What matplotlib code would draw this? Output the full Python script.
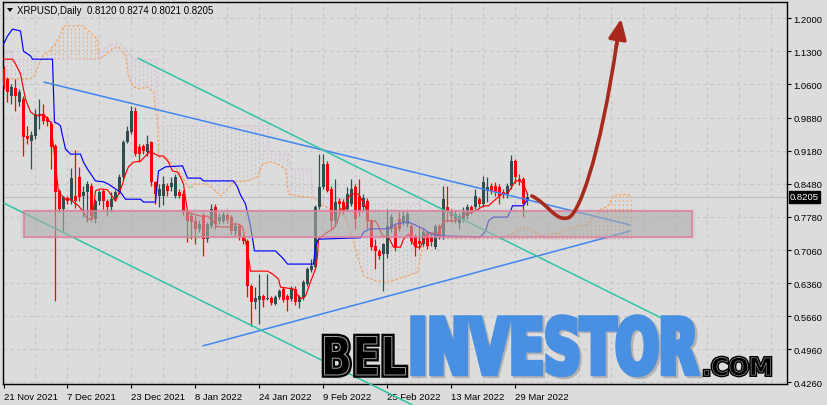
import numpy as np
import matplotlib
matplotlib.use("Agg")
import matplotlib.pyplot as plt
from matplotlib.textpath import TextPath
from matplotlib.font_manager import FontProperties
from matplotlib.patches import PathPatch, Rectangle, Polygon
from matplotlib.path import Path
from matplotlib.transforms import Affine2D

# daily candles XRPUSD, 21 Nov 2021 .. 1 Apr 2022 (bar index 0..131)
opens = [1.092, 1.071, 1.035, 1.052, 1.022, 1.028, 0.950, 0.939, 0.950, 0.994,
         0.997, 0.988, 0.975, 0.928, 0.832, 0.794, 0.818, 0.811, 0.822, 0.862,
         0.822, 0.830, 0.843, 0.773, 0.811, 0.832, 0.811, 0.798, 0.815, 0.830,
         0.862, 0.937, 0.958, 1.003, 0.926, 0.928, 0.916, 0.937, 0.852, 0.822,
         0.822, 0.843, 0.841, 0.822, 0.830, 0.826, 0.788, 0.779, 0.769, 0.752,
         0.781, 0.730, 0.758, 0.798, 0.769, 0.769, 0.782, 0.777, 0.747, 0.758,
         0.735, 0.726, 0.630, 0.596, 0.600, 0.609, 0.602, 0.605, 0.592, 0.607,
         0.624, 0.609, 0.602, 0.624, 0.596, 0.605, 0.635, 0.665, 0.671, 0.798,
         0.841, 0.890, 0.837, 0.769, 0.811, 0.809, 0.794, 0.805, 0.841, 0.822,
         0.798, 0.811, 0.769, 0.716, 0.705, 0.699, 0.699, 0.752, 0.758, 0.773,
         0.767, 0.762, 0.758, 0.737, 0.726, 0.720, 0.741, 0.735, 0.713, 0.758,
         0.737, 0.798, 0.788, 0.773, 0.765, 0.773, 0.779, 0.798, 0.798, 0.815,
         0.805, 0.833, 0.843, 0.843, 0.841, 0.830, 0.826, 0.843, 0.896, 0.858,
         0.858, 0.8120]
highs = [1.098, 1.075, 1.060, 1.071, 1.050, 1.035, 0.971, 0.960, 1.007, 1.028,
         1.018, 0.992, 0.981, 0.932, 0.836, 0.822, 0.822, 0.881, 0.920, 0.884,
         0.843, 0.854, 0.849, 0.815, 0.834, 0.836, 0.815, 0.830, 0.834, 0.869,
         0.941, 0.971, 1.013, 1.011, 0.932, 0.932, 0.952, 0.939, 0.854, 0.847,
         0.864, 0.849, 0.862, 0.869, 0.836, 0.834, 0.794, 0.785, 0.779, 0.771,
         0.786, 0.767, 0.805, 0.805, 0.786, 0.788, 0.786, 0.782, 0.767, 0.762,
         0.739, 0.730, 0.634, 0.628, 0.656, 0.613, 0.656, 0.609, 0.611, 0.624,
         0.628, 0.613, 0.630, 0.630, 0.611, 0.643, 0.671, 0.688, 0.803, 0.911,
         0.911, 0.896, 0.843, 0.858, 0.818, 0.815, 0.841, 0.858, 0.847, 0.858,
         0.826, 0.818, 0.773, 0.730, 0.709, 0.722, 0.794, 0.784, 0.765, 0.788,
         0.790, 0.790, 0.762, 0.741, 0.758, 0.752, 0.747, 0.741, 0.762, 0.762,
         0.843, 0.843, 0.794, 0.792, 0.786, 0.798, 0.805, 0.803, 0.837, 0.820,
         0.864, 0.862, 0.849, 0.852, 0.847, 0.837, 0.849, 0.909, 0.900, 0.869,
         0.862, 0.8274]
lows = [1.050, 1.022, 1.018, 1.003, 1.013, 0.907, 0.933, 0.879, 0.943, 0.964,
        0.975, 0.971, 0.879, 0.599, 0.788, 0.747, 0.805, 0.805, 0.797, 0.811,
        0.777, 0.767, 0.769, 0.765, 0.803, 0.794, 0.779, 0.788, 0.811, 0.826,
        0.858, 0.935, 0.954, 0.907, 0.894, 0.911, 0.907, 0.843, 0.805, 0.798,
        0.803, 0.822, 0.832, 0.818, 0.818, 0.781, 0.724, 0.730, 0.720, 0.745,
        0.694, 0.724, 0.754, 0.752, 0.762, 0.765, 0.765, 0.741, 0.737, 0.728,
        0.720, 0.607, 0.545, 0.581, 0.550, 0.585, 0.600, 0.590, 0.590, 0.603,
        0.596, 0.577, 0.598, 0.590, 0.583, 0.600, 0.630, 0.660, 0.667, 0.794,
        0.837, 0.830, 0.752, 0.758, 0.794, 0.784, 0.790, 0.801, 0.752, 0.779,
        0.790, 0.752, 0.707, 0.667, 0.688, 0.620, 0.690, 0.745, 0.705, 0.747,
        0.760, 0.755, 0.720, 0.694, 0.709, 0.716, 0.709, 0.716, 0.709, 0.730,
        0.730, 0.767, 0.767, 0.765, 0.752, 0.767, 0.773, 0.784, 0.794, 0.798,
        0.798, 0.809, 0.826, 0.822, 0.805, 0.818, 0.818, 0.837, 0.850, 0.845,
        0.777, 0.8021]
closes = [1.056, 1.043, 1.054, 1.035, 1.043, 0.947, 0.943, 0.952, 0.996, 0.997,
          0.981, 0.979, 0.926, 0.830, 0.794, 0.820, 0.811, 0.860, 0.811, 0.820,
          0.830, 0.847, 0.779, 0.811, 0.830, 0.811, 0.798, 0.815, 0.830, 0.862,
          0.937, 0.960, 1.003, 0.911, 0.911, 0.918, 0.933, 0.852, 0.826, 0.837,
          0.847, 0.833, 0.849, 0.862, 0.822, 0.788, 0.769, 0.767, 0.752, 0.762,
          0.730, 0.762, 0.794, 0.762, 0.777, 0.782, 0.771, 0.747, 0.758, 0.735,
          0.726, 0.630, 0.596, 0.605, 0.609, 0.600, 0.605, 0.594, 0.607, 0.620,
          0.600, 0.600, 0.624, 0.596, 0.607, 0.639, 0.667, 0.673, 0.798, 0.841,
          0.890, 0.833, 0.769, 0.809, 0.805, 0.790, 0.826, 0.837, 0.773, 0.790,
          0.818, 0.769, 0.713, 0.705, 0.694, 0.720, 0.758, 0.777, 0.713, 0.752,
          0.779, 0.784, 0.726, 0.713, 0.720, 0.745, 0.716, 0.724, 0.758, 0.737,
          0.816, 0.788, 0.779, 0.783, 0.779, 0.790, 0.798, 0.790, 0.822, 0.805,
          0.852, 0.841, 0.833, 0.830, 0.822, 0.826, 0.843, 0.896, 0.862, 0.854,
          0.805, 0.8205]

# Ichimoku lines (bar index, price)
tenkan_x = [0, 2.25, 3, 4.25, 4.75, 5.5, 6.75, 7.5, 8.75, 10, 11.75, 12.5, 13.75, 15.5, 16.75,
            17.5, 18.75, 20, 21, 22.25, 23, 24.25, 26, 27.25, 28, 28.75, 29.75, 30.5, 31.25,
            32.5, 34.25, 35.5, 36.75, 37.5, 38.75, 40, 41.25, 42.25, 43.5, 44.25, 45, 46,
            47.25, 49.25, 51, 52.5, 53.5, 56.75, 57.5, 58.75, 59.75, 60.25, 61.25, 61.75, 66,
            67.25, 68.75, 69.25, 72.5, 74.25, 75.5, 76.75, 78, 78.5, 78.75, 79.75, 81, 82.5,
            83.5, 84.25, 85.5, 86.25, 87.25, 88.75, 89.75, 90.5, 91.25, 93, 93.75, 94.75,
            96.25, 97.5, 99.25, 100, 101.25, 103, 104.25, 104.75, 106, 108.5, 109.25, 110,
            113, 114.75, 115.5, 117.5, 118.75, 120, 121.25, 122.25, 123.75, 124.75, 126,
            126.75, 128, 129.25, 130, 131]
tenkan_y = [1.113, 1.113, 1.103, 1.082, 1.060, 1.028, 1.001, 0.996, 0.992, 0.996, 0.979, 0.928,
            0.830, 0.815, 0.815, 0.809, 0.801, 0.788, 0.773, 0.773, 0.833, 0.837, 0.835, 0.820,
            0.811, 0.826, 0.847, 0.869, 0.884, 0.894, 0.896, 0.907, 0.918, 0.913, 0.907, 0.907,
            0.894, 0.875, 0.873, 0.862, 0.847, 0.788, 0.784, 0.779, 0.779, 0.767, 0.756, 0.756,
            0.762, 0.762, 0.756, 0.737, 0.692, 0.662, 0.662, 0.656, 0.645, 0.628, 0.624, 0.603,
            0.609, 0.639, 0.667, 0.694, 0.730, 0.737, 0.745, 0.752, 0.767, 0.794, 0.794, 0.820,
            0.826, 0.826, 0.811, 0.799, 0.769, 0.769, 0.758, 0.737, 0.735, 0.713, 0.713, 0.730,
            0.741, 0.713, 0.713, 0.724, 0.745, 0.741, 0.752, 0.769, 0.769, 0.777, 0.784, 0.788,
            0.794, 0.801, 0.801, 0.809, 0.820, 0.826, 0.826, 0.837, 0.854, 0.854, 0.847, 0.826]
kijun_x = [0, 1, 2.25, 4.25, 5, 6.75, 7.25, 12.25, 12.5, 12.75, 13.75, 14.25, 14.75, 15.5,
           16.75, 19.25, 20, 21, 23, 25, 26.25, 28, 29.25, 30.5, 34.25, 35, 38, 38.5, 38.75,
           40.5, 44.75, 46, 49.25, 50, 57.5, 58.5, 59.25, 60.5, 61.75, 62.75, 68, 70, 71,
           77.5, 78, 78.75, 89.25, 90, 91.75, 96.25, 98, 101, 102.5, 105, 106.75, 109.25,
           119.25, 120.5, 121.25, 122.5, 126, 126.75, 127.25, 130, 131]
kijun_y = [1.145, 1.162, 1.177, 1.173, 1.130, 1.120, 1.113, 1.113, 1.043, 0.979, 0.975, 0.971,
           0.950, 0.922, 0.911, 0.911, 0.894, 0.879, 0.854, 0.852, 0.847, 0.837, 0.830, 0.815,
           0.815, 0.809, 0.809, 0.852, 0.875, 0.884, 0.886, 0.860, 0.860, 0.854, 0.854, 0.841,
           0.824, 0.805, 0.758, 0.705, 0.705, 0.688, 0.677, 0.677, 0.715, 0.730, 0.733, 0.745,
           0.752, 0.752, 0.762, 0.767, 0.762, 0.752, 0.741, 0.737, 0.735, 0.747, 0.769, 0.777,
           0.777, 0.790, 0.801, 0.801, 0.816]
span_a_x = [0, 6.75, 7.5, 8.75, 10, 11.25, 12.5, 13.75, 15, 20, 21.25, 23.5, 23.75, 25, 27.25,
            28.75, 30.5, 31.25, 32.5, 34.25, 36, 37.5, 38.5, 38.75, 41, 41.75, 43.75, 45.5,
            46.75, 47.5, 51, 52.5, 54.25, 56, 57.5, 61, 63.5, 64.75, 66.75, 68.5, 70.5, 71.25,
            73.5, 77.5, 79.25, 85.5, 87.25, 88.5, 90, 93, 96, 98.5, 101, 103.5, 104.25, 105.5,
            109.25, 116, 121.75, 126, 130, 131.75, 134.25, 139.25, 142.5, 146, 149.25, 151,
            152.5, 155, 157.25]
span_a_y = [1.071, 1.071, 1.075, 1.099, 1.124, 1.128, 1.141, 1.156, 1.184, 1.184, 1.173, 1.156,
            1.113, 1.118, 1.135, 1.139, 1.120, 1.077, 1.054, 1.050, 1.054, 1.043, 0.971, 0.905,
            0.901, 0.894, 0.875, 0.852, 0.837, 0.847, 0.847, 0.837, 0.822, 0.837, 0.852, 0.854,
            0.862, 0.890, 0.894, 0.890, 0.879, 0.826, 0.822, 0.818, 0.805, 0.777, 0.730, 0.694,
            0.652, 0.641, 0.639, 0.645, 0.652, 0.660, 0.694, 0.730, 0.735, 0.730, 0.735, 0.737,
            0.756, 0.752, 0.737, 0.745, 0.756, 0.762, 0.794, 0.799, 0.822, 0.826, 0.822]
span_b_x = [0, 2.25, 2.5, 23.5, 24.25, 26.75, 29.25, 31, 32.5, 38.5, 38.75, 66.25, 66.75,
            71.25, 71.75, 76.75, 77.5, 85.5, 86.75, 104.25, 105.5, 157.25]
span_b_y = [1.130, 1.130, 1.113, 1.113, 1.130, 1.145, 1.145, 1.130, 1.113, 1.113, 0.971, 0.971,
            0.911, 0.911, 0.879, 0.879, 0.816, 0.816, 0.805, 0.805, 0.730, 0.730]

# hand drawn objects
trend_blue_upper = [(10.0, 1.0645), (156.75, 0.7602)]
trend_blue_lower = [(49.75, 0.5027), (156.75, 0.7474)]
trend_teal_upper = [(33.5, 1.1155), (165.5, 0.5580)]
trend_teal_lower = [(0.0, 0.807), (102.25, 0.3771)]
zone = (5.25, 172.25, 0.7347, 0.7900)

yticks = [1.2000, 1.1300, 1.0600, 0.9880, 0.9180, 0.8480, 0.7780, 0.7060, 0.6360, 0.5660, 0.4960, 0.4260]
xtick_pos = [0, 16, 32, 48, 64, 80, 96, 112, 128]
xtick_labels = ["21 Nov 2021", "7 Dec 2021", "23 Dec 2021", "8 Jan 2022", "24 Jan 2022",
                "9 Feb 2022", "25 Feb 2022", "13 Mar 2022", "29 Mar 2022"]
last_price = 0.8205

BG = "#dcdcdc"
W, H = 827, 406
FONT = ["Liberation Sans", "DejaVu Sans"]

fig = plt.figure(figsize=(W / 100, H / 100), dpi=100, facecolor=BG)
ax = fig.add_axes([3 / W, (H - 385) / H, 784 / W, 382 / H])
ax.set_facecolor(BG)
ax.set_xlim(-0.125, 195.875)
ax.set_ylim(0.4218, 1.2347)

# grid
for yv in yticks:
    ax.axhline(yv, color="#c6c6c6", lw=0.8, ls=(0, (3, 3)), zorder=0)
for xv in range(8, 196, 8):
    ax.axvline(xv, color="#c6c6c6", lw=0.8, ls=(0, (3, 3)), zorder=0)
ax.axhline(last_price, color="#c0c0c0", lw=0.8, zorder=0.5)

# kumo
k = np.arange(0, 158)
a = np.interp(k, span_a_x, span_a_y)
b = np.interp(k, span_b_x, span_b_y)
up = a >= b
ax.vlines(k[up], b[up], a[up], colors="#efb07a", lw=0.75, linestyles=(0, (2, 2)), zorder=1)
ax.vlines(k[~up], a[~up], b[~up], colors="#d4c0d4", lw=0.75, linestyles=(0, (2, 2)), zorder=1)
ax.plot(span_a_x, span_a_y, color="#f4a460", lw=0.9, ls=(0, (2, 1.5)), zorder=1.5)
ax.plot(span_b_x, span_b_y, color="#d8bfd8", lw=0.9, ls=(0, (2, 1.5)), zorder=1.5)

# candles
o = np.array(opens); h = np.array(highs); l = np.array(lows); c = np.array(closes)
idx = np.arange(len(o))
cols = np.where(c >= o, "#2f4f4f", "#ff0000")
ax.vlines(idx, l, h, colors=cols, lw=0.9, zorder=3)
ax.bar(idx, np.maximum(np.abs(c - o), 0.0018), bottom=np.minimum(o, c), width=0.75,
       color=cols, linewidth=0, zorder=4)

# tenkan / kijun
ax.plot(tenkan_x, tenkan_y, color="#ff0000", lw=0.85, zorder=5)
ax.plot(kijun_x, kijun_y, color="#0000ff", lw=0.85, zorder=5)

# trend lines
for seg, col in [(trend_blue_upper, "#3f86f0"), (trend_blue_lower, "#3f86f0"),
                 (trend_teal_upper, "#2fc4a4"), (trend_teal_lower, "#2fc4a4")]:
    xs, ys = zip(*seg)
    ax.plot(xs, ys, color=col, lw=1.1, zorder=6, clip_on=False, solid_capstyle="butt")

# support zone
x0, x1, y0, y1 = zone
for g in range(4, 0, -1):
    ax.add_patch(Rectangle((x0 - 0.25 * g, y0 - 0.0012 * g), x1 - x0 + 0.5 * g, y1 - y0 + 0.0024 * g,
                           facecolor="#8a8a8a", alpha=0.05, lw=0, zorder=7))
ax.add_patch(Rectangle((x0, y0), x1 - x0, y1 - y0, facecolor="#b4b4b4", alpha=0.5,
                       edgecolor="none", zorder=7))
ax.add_patch(Rectangle((x0, y0), x1 - x0, y1 - y0, facecolor="none",
                       edgecolor="#e07e9c", lw=1.1, zorder=7.5))

# forecast arrow
arrow_pts = [(132.1, 0.822), (136.1, 0.805), (137.9, 0.769), (140.9, 0.775),
             (143.6, 0.775), (149.1, 0.901), (153.4, 1.152)]
codes = [Path.MOVETO] + [Path.CURVE4] * 6
ax.add_patch(PathPatch(Path(arrow_pts, codes), facecolor="none", edgecolor="#a82a1c",
                       lw=2.6, capstyle="round", zorder=9))
ax.annotate("", xy=(154.4, 1.199), xytext=(153.2, 1.140),
            arrowprops=dict(arrowstyle="-|>,head_length=1.0,head_width=0.45", mutation_scale=12,
                            color="#a82a1c", lw=2.6, shrinkA=0, shrinkB=0), zorder=9)

# axes styling
for s in ax.spines.values():
    s.set_color("black")
    s.set_linewidth(1.0)
ax.yaxis.tick_right()
ax.set_yticks(yticks)
ax.set_yticklabels(["%.4f" % v for v in yticks], fontsize=6.8, family=FONT)
ax.tick_params(axis="y", direction="out", length=3, width=0.8, pad=1.5, colors="black")
ax.set_xticks(xtick_pos)
ax.set_xticklabels(xtick_labels, fontsize=6.8, family=FONT, ha="left")
ax.tick_params(axis="x", direction="out", length=3, width=0.8, pad=2.5, colors="black")

price_tag = ax.text(1.0 + 3 / 784, last_price, "0.8205", transform=ax.get_yaxis_transform(),
                    color="white", fontsize=6.8, family=FONT, va="center", ha="left",
                    bbox=dict(boxstyle="square,pad=0.15", facecolor="black", edgecolor="black"),
                    zorder=10, clip_on=False)

# header
fig.add_artist(Polygon([[7 / W, 1 - 9 / H], [13 / W, 1 - 9 / H], [10 / W, 1 - 13 / H]],
                       closed=True, facecolor="black", edgecolor="none", transform=fig.transFigure))
fig.text(17 / W, 1 - 11 / H, "XRPUSD,Daily  0.8120 0.8274 0.8021 0.8205", fontsize=7,
         family=FONT, va="center", ha="left", color="black")


# watermark
def word(text, box, fc, ec=None, lw=0.0, weight="bold", family=("Liberation Sans Narrow", "DejaVu Sans"),
         z=20, alpha=1.0):
    tp = TextPath((0, 0), text, size=100, prop=FontProperties(family=list(family), weight=weight))
    ext = tp.get_extents()
    bx0, by0, bx1, by1 = box
    tr = (Affine2D().translate(-ext.x0, -ext.y0)
          .scale((bx1 - bx0) / ext.width, (by1 - by0) / ext.height)
          .translate(bx0, H - by1)
          .scale(1 / W, 1 / H) + fig.transFigure)
    p = PathPatch(tp, transform=tr, facecolor=fc, edgecolor=ec if ec else "none", lw=lw,
                  zorder=z, alpha=alpha, joinstyle="miter")
    fig.add_artist(p)


word("INVESTOR", (414.5, 319.5, 699.5, 377.5), "#555555", ec="#555555", lw=4.0, z=19, alpha=0.3)
word("INVESTOR", (413, 318, 697, 375.5), "#4a90e2", ec="#4a90e2", lw=4.0)
word("BEL", (324.5, 337.5, 405.5, 376), "black", ec="black", lw=4.0)
word("BEL", (324.5, 337.5, 405.5, 376), "none", ec="#a0a0a0", lw=0.7, z=21)
word(".COM", (704.5, 358.5, 770.5, 376.5), "black", ec="black", lw=2.6)
word(".COM", (704.5, 358.5, 770.5, 376.5), "none", ec="#8a8a8a", lw=0.5, z=21)

fig.savefig("out.png", dpi=100, facecolor=BG)
